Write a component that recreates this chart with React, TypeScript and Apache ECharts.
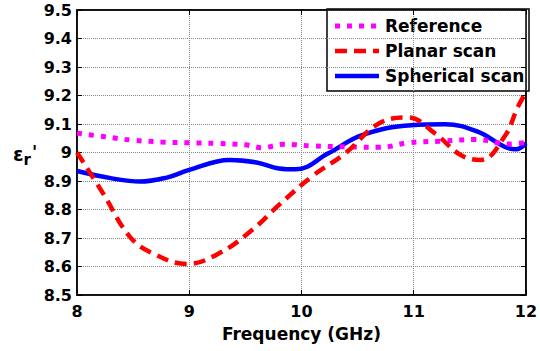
import React, { useEffect, useRef } from "react";
import * as echarts from "echarts";

const refFreq = [8, 8.25, 8.5, 8.75, 9.0, 9.25, 9.5, 9.65, 9.85, 10.1, 10.4, 10.7, 10.95, 11.25, 11.55, 11.85, 12];
const refVals = [9.068, 9.055, 9.043, 9.037, 9.034, 9.032, 9.027, 9.017, 9.029, 9.023, 9.02, 9.018, 9.034, 9.04, 9.046, 9.03, 9.035];

const planarFreq = [8, 8.23, 8.47, 8.67, 8.98, 9.27, 9.56, 9.8, 10.09, 10.39, 10.69, 10.95, 11.19, 11.42, 11.6, 11.81, 11.93, 12];
const planarVals = [9.0, 8.858, 8.705, 8.647, 8.609, 8.647, 8.728, 8.816, 8.915, 8.997, 9.102, 9.123, 9.067, 8.991, 8.974, 9.056, 9.161, 9.21];

const sphFreq = [8, 8.3, 8.56, 8.8, 9.0, 9.36, 9.6, 9.8, 9.95, 10.24, 10.54, 10.98, 11.28, 11.57, 11.81, 11.91, 12];
const sphVals = [8.935, 8.91, 8.898, 8.912, 8.939, 8.974, 8.965, 8.944, 8.941, 8.997, 9.061, 9.096, 9.099, 9.073, 9.02, 9.011, 9.032];

const seriesNames = ["Reference", "Planar scan", "Spherical scan"];
const seriesColors = ["#ff00ff", "#ff0000", "#0000ff"];
const seriesWidths = [5, 4.5, 4.5];
const seriesDash: (number[] | "solid")[] = [[5, 7], [12, 7], "solid"];
const xTicks = { min: 8, max: 12, interval: 1 };
const yTicks = { min: 8.5, max: 9.5, interval: 0.1 };

const FONT = "DejaVu Sans";

const zip = (xs: number[], ys: number[]) => xs.map((x, i) => [x, ys[i]]);

export default function App() {
  const ref = useRef<HTMLDivElement>(null);
  useEffect(() => {
    if (!ref.current) return;
    const chart = echarts.init(ref.current, null, { renderer: "svg" });
    const grid = { left: 77, right: 12, top: 10, bottom: 56 };
    const tickStyle = { show: true, inside: true, length: 5, lineStyle: { color: "#000", width: 1 } };

    const legendX = 327;
    const legendY = 9;
    const legendRowY = [26, 51, 76];
    const legendEls: any[] = [
      {
        type: "rect",
        shape: { x: legendX, y: legendY, width: 202, height: 82 },
        style: { fill: "#fff", stroke: "#000", lineWidth: 1.5 },
      },
    ];
    seriesNames.forEach((name, i) => {
      legendEls.push({
        type: "line",
        shape: { x1: legendX + 8, y1: legendRowY[i], x2: legendX + 52, y2: legendRowY[i] },
        style: {
          stroke: seriesColors[i],
          lineWidth: seriesWidths[i],
          lineDash: seriesDash[i] === "solid" ? null : seriesDash[i],
        },
      });
      legendEls.push({
        type: "text",
        x: legendX + 58,
        y: legendRowY[i],
        style: {
          text: name,
          fontFamily: FONT,
          fontWeight: "bold",
          fontSize: 17,
          fill: "#000",
          verticalAlign: "middle",
          align: "left",
        },
      });
    });

    chart.setOption({
      animation: false,
      backgroundColor: "#fff",
      grid: { ...grid, show: true, borderColor: "#000", borderWidth: 1.5, backgroundColor: "transparent" },
      xAxis: [
        {
          type: "value",
          ...xTicks,
          name: "Frequency (GHz)",
          nameLocation: "middle",
          nameGap: 30,
          nameTextStyle: { fontFamily: FONT, fontWeight: "bold", fontSize: 17, color: "#000" },
          axisLine: { show: true, lineStyle: { color: "#000", width: 1.5 } },
          axisTick: tickStyle,
          axisLabel: { fontFamily: FONT, fontWeight: "bold", fontSize: 16, color: "#000", margin: 8 },
          splitLine: { show: true, lineStyle: { color: "#888", type: [1, 1], width: 1 } },
        },
        {
          type: "value",
          ...xTicks,
          position: "top",
          axisLine: { show: true, lineStyle: { color: "#000", width: 1.5 } },
          axisTick: tickStyle,
          axisLabel: { show: false },
          splitLine: { show: false },
        },
      ],
      yAxis: [
        {
          type: "value",
          ...yTicks,
          axisLine: { show: true, lineStyle: { color: "#000", width: 1.5 } },
          axisTick: tickStyle,
          axisLabel: {
            fontFamily: FONT,
            fontWeight: "bold",
            fontSize: 16,
            color: "#000",
            margin: 5,
            formatter: (v: number) => String(Math.round(v * 10) / 10),
          },
          splitLine: { show: true, lineStyle: { color: "#888", type: [1, 1], width: 1 } },
        },
        {
          type: "value",
          ...yTicks,
          position: "right",
          axisLine: { show: true, lineStyle: { color: "#000", width: 1.5 } },
          axisTick: tickStyle,
          axisLabel: { show: false },
          splitLine: { show: false },
        },
      ],
      graphic: [
        {
          type: "text",
          x: 13,
          y: 154,
          z: 100,
          style: {
            text: "{e|ε}{s|r}{p|'}",
            verticalAlign: "middle",
            fill: "#000",
            rich: {
              e: { fontFamily: FONT, fontWeight: "bold", fontSize: 19, lineHeight: 30, verticalAlign: "middle", fill: "#000" },
              s: { fontFamily: FONT, fontWeight: "bold", fontSize: 15, lineHeight: 30, verticalAlign: "bottom", fill: "#000", padding: [0, 0, 2, 0] },
              p: { fontFamily: FONT, fontWeight: "bold", fontSize: 17, lineHeight: 30, verticalAlign: "top", fill: "#000", padding: [4, 0, 0, 1] },
            },
          },
        },
        { type: "group", z: 100, children: legendEls },
      ],
      series: seriesNames.map((name, i) => ({
        name,
        type: "line",
        data: [zip(refFreq, refVals), zip(planarFreq, planarVals), zip(sphFreq, sphVals)][i],
        smooth: 0.4,
        symbol: "none",
        lineStyle: { color: seriesColors[i], width: seriesWidths[i], type: seriesDash[i] },
        itemStyle: { color: seriesColors[i] },
        z: [3, 4, 2][i],
      })),
    });
    return () => chart.dispose();
  }, []);
  return <div ref={ref} style={{ position: "absolute", left: 0, top: 0, width: 540, height: 351 }} />;
}
